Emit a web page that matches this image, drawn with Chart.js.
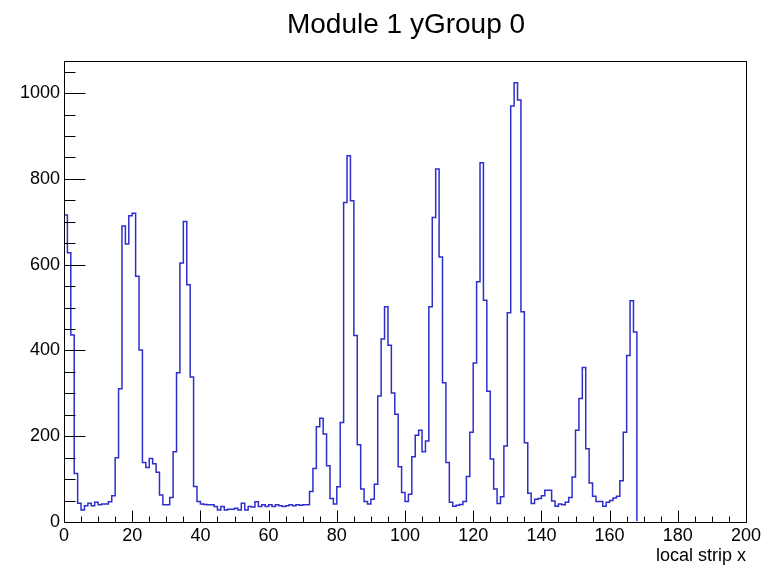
<!DOCTYPE html>
<html>
<head>
<meta charset="utf-8">
<script src="https://cdn.jsdelivr.net/npm/chart.js@4"></script>
<style>
  html, body { margin: 0; padding: 0; background: #ffffff; }
  #c { display: block; }
</style>
</head>
<body>
<canvas id="c" width="772" height="566"></canvas>
<script>
// ---- data ----
const titleText = "Module 1 yGroup 0";
const xAxisTitle = "local strip x";
const binLow = 0, binHigh = 200;
const counts = [
  716, 628, 436, 113, 44, 28, 38, 44, 38, 46,
  40, 42, 42, 47, 61, 150, 311, 690, 648, 714,
  720, 573, 401, 139, 127, 148, 136, 116, 63, 40,
  40, 57, 164, 348, 604, 701, 553, 338, 83, 48,
  42, 41, 40, 40, 36, 28, 36, 28, 30, 30,
  32, 28, 44, 28, 36, 35, 47, 36, 40, 36,
  40, 36, 40, 38, 36, 38, 40, 38, 40, 39,
  40, 40, 71, 125, 222, 242, 205, 131, 55, 42,
  82, 232, 745, 854, 749, 435, 180, 77, 48, 42,
  53, 88, 294, 427, 502, 412, 301, 251, 129, 69,
  48, 65, 152, 202, 214, 164, 189, 502, 710, 823,
  618, 325, 139, 46, 37, 39, 41, 48, 106, 209,
  371, 560, 838, 517, 305, 147, 77, 43, 59, 177,
  488, 970, 1024, 984, 490, 185, 67, 43, 53, 55,
  61, 74, 74, 49, 37, 42, 40, 46, 57, 105,
  214, 288, 360, 171, 91, 60, 48, 48, 37, 46,
  50, 56, 60, 96, 209, 388, 516, 443, 0, 0,
  0, 0, 0, 0, 0, 0, 0, 0, 0, 0,
  0, 0, 0, 0, 0, 0, 0, 0, 0, 0,
  0, 0, 0, 0, 0, 0, 0, 0, 0, 0
];
const xTicks = [0, 20, 40, 60, 80, 100, 120, 140, 160, 180, 200];
const yTicks = [0, 200, 400, 600, 800, 1000];
const yMax = 1075;

// build step points: bin low edges + final upper edge
const binWidth = (binHigh - binLow) / counts.length;
const points = counts.map((v, i) => ({ x: binLow + i * binWidth, y: v }));
points.push({ x: binHigh, y: counts[counts.length - 1] });

const FONT = "'Liberation Sans', Arial, Helvetica, sans-serif";

const rootFrame = {
  id: 'rootFrame',
  afterDatasetsDraw(chart) {
    const ctx = chart.ctx;
    const a = chart.chartArea;
    const xs = chart.scales.x, ys = chart.scales.y;
    ctx.save();
    ctx.strokeStyle = '#000000';
    ctx.lineWidth = 1;
    const L = Math.round(a.left) + 0.5, R = Math.round(a.right) + 0.5;
    const T = Math.round(a.top) + 0.5, B = Math.round(a.bottom) + 0.5;
    ctx.strokeRect(L, T, R - L, B - T);
    ctx.beginPath();
    // x ticks (inward, from bottom)
    for (let v = xs.min; v <= xs.max + 1e-9; v += 5) {
      const px = Math.round(xs.getPixelForValue(v)) + 0.5;
      const major = Math.abs(v / 20 - Math.round(v / 20)) < 1e-9;
      const len = major ? 12 : 6;
      ctx.moveTo(px, B);
      ctx.lineTo(px, B - len);
    }
    // y ticks (inward, from left)
    for (let v = ys.min; v <= ys.max + 1e-9; v += 50) {
      const py = Math.round(ys.getPixelForValue(v)) + 0.5;
      const major = Math.abs(v / 200 - Math.round(v / 200)) < 1e-9;
      const len = major ? 21 : 11;
      ctx.moveTo(L, py);
      ctx.lineTo(L + len, py);
    }
    ctx.stroke();
    // title
    ctx.fillStyle = '#000000';
    ctx.font = '28px ' + FONT;
    ctx.textAlign = 'center';
    ctx.textBaseline = 'alphabetic';
    ctx.fillText(titleText, (a.left + a.right) / 2 + 1, 33);
    // x axis title
    ctx.font = '18px ' + FONT;
    ctx.textAlign = 'right';
    ctx.fillText(xAxisTitle, a.right, 561);
    ctx.restore();
  }
};

new Chart(document.getElementById('c'), {
  type: 'line',
  data: {
    datasets: [{
      data: points,
      stepped: 'before',
      borderColor: '#2e2ecc',
      borderWidth: 1.5,
      pointRadius: 0,
      fill: false,
      tension: 0,
      clip: { left: 0, top: 0, right: 0, bottom: -1 }
    }]
  },
  options: {
    responsive: false,
    animation: false,
    devicePixelRatio: 1,
    layout: { padding: { left: 0, top: 61, right: 26, bottom: 0 } },
    plugins: { legend: { display: false }, title: { display: false }, tooltip: { enabled: false } },
    scales: {
      x: {
        type: 'linear',
        min: binLow, max: binHigh,
        afterBuildTicks: (s) => { s.ticks = xTicks.map(v => ({ value: v })); },
        afterFit: (s) => { s.height = 44; },
        grid: { display: false, drawTicks: false },
        border: { display: false },
        ticks: { color: '#000', font: { family: FONT, size: 18 }, padding: 3, maxRotation: 0, autoSkip: false,
                 callback: (v) => String(v) }
      },
      y: {
        type: 'linear',
        min: 0, max: yMax,
        afterBuildTicks: (s) => { s.ticks = yTicks.map(v => ({ value: v })); },
        afterFit: (s) => { s.width = 64; },
        grid: { display: false, drawTicks: false },
        border: { display: false },
        ticks: { color: '#000', font: { family: FONT, size: 18 }, padding: 4, autoSkip: false,
                 callback: (v) => String(v) }
      }
    }
  },
  plugins: [rootFrame]
});
</script>
</body>
</html>
